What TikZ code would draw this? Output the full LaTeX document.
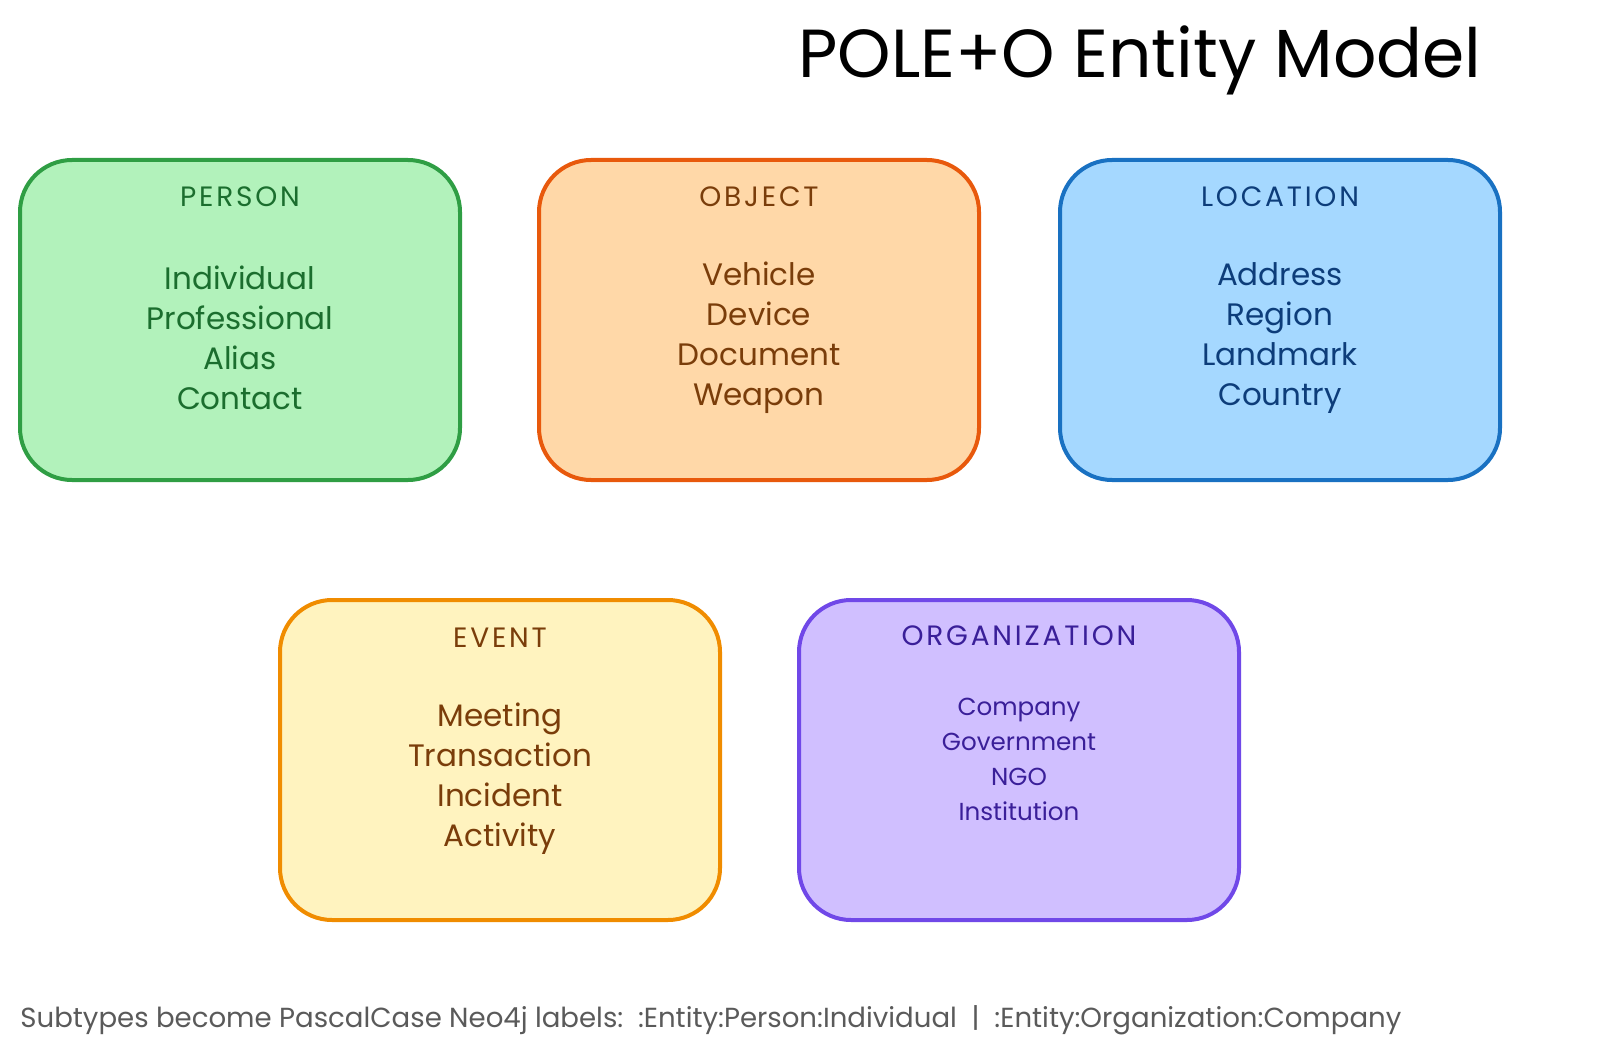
\documentclass[tikz,border=0pt]{standalone}
\usepackage{fontspec}
\setmainfont{Poppins}
\newfontfamily\headfont[LetterSpace=10]{Poppins}
\usetikzlibrary{positioning}
\definecolor{personfill}{HTML}{B2F2BB}\definecolor{persondraw}{HTML}{2F9E44}\definecolor{persontext}{HTML}{1B6E2E}
\definecolor{objectfill}{HTML}{FFD8A8}\definecolor{objectdraw}{HTML}{E8590C}\definecolor{objecttext}{HTML}{7A3D0A}
\definecolor{locfill}{HTML}{A5D8FF}\definecolor{locdraw}{HTML}{1971C2}\definecolor{loctext}{HTML}{0D3D7A}
\definecolor{eventfill}{HTML}{FFF3BF}\definecolor{eventdraw}{HTML}{F08C00}\definecolor{eventtext}{HTML}{7A3D0A}
\definecolor{orgfill}{HTML}{D0BFFF}\definecolor{orgdraw}{HTML}{7048E8}\definecolor{orgtext}{HTML}{3A1F99}
\definecolor{notegray}{HTML}{5A5A5A}
\tikzset{
  entity/.style={draw, line width=2pt, rounded corners=26pt, minimum width=220pt, minimum height=160pt, inner sep=0pt},
  head/.style={font=\headfont\fontsize{14}{16}\selectfont},
  items/.style={align=center, font=\fontsize{15.5}{20}\selectfont},
}

\begin{document}
\begin{tikzpicture}[x=0.5pt, y=-0.5pt]
	\useasboundingbox (0,0) rectangle (1600,1064);
	\node[font=\fontsize{34}{40}\selectfont] (title) at (1140,60) {POLE+O Entity Model};
	% top row
	\node[entity, fill=personfill, draw=persondraw] (person) at (240,320) {};
	\node[head, text=persontext] (personhead) at (240,197) {PERSON};
	\node[items, text=persontext] (personitems) at (240,338) {Individual\\Professional\\Alias\\Contact};
	\node[entity, fill=objectfill, draw=objectdraw] (object) at (759,320) {};
	\node[head, text=objecttext] (objecthead) at (759,197) {OBJECT};
	\node[items, text=objecttext] (objectitems) at (759,338) {Vehicle\\Device\\Document\\Weapon};
	\node[entity, fill=locfill, draw=locdraw] (location) at (1280,320) {};
	\node[head, text=loctext] (locationhead) at (1280,197) {LOCATION};
	\node[items, text=loctext] (locationitems) at (1280,338) {Address\\Region\\Landmark\\Country};
	% bottom row
	\node[entity, fill=eventfill, draw=eventdraw] (event) at (500,760) {};
	\node[head, text=eventtext] (eventhead) at (500,638) {EVENT};
	\node[items, text=eventtext] (eventitems) at (500,779) {Meeting\\Transaction\\Incident\\Activity};
	\node[entity, fill=orgfill, draw=orgdraw] (org) at (1019,760) {};
	\node[head, text=orgtext] (orghead) at (1019,636) {ORGANIZATION};
	\node[items, text=orgtext, font=\fontsize{12.3}{17.5}\selectfont] (orgitems) at (1019,759) {Company\\Government\\NGO\\Institution};
	\node[anchor=west, text=notegray, font=\fontsize{13.8}{16}\selectfont, inner sep=0pt] (note) at (20,1020)
	  {Subtypes become PascalCase Neo4j labels:\ \ :Entity:Person:Individual\ \ |\ \ :Entity:Organization:Company};
\end{tikzpicture}
\end{document}
